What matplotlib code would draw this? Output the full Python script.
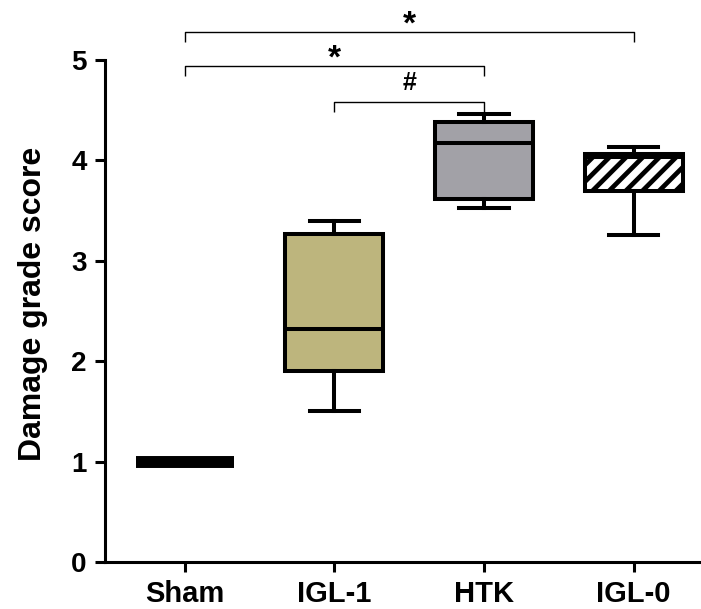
"""
plot.py
Damage grade score box plot (Sham / IGL-1 / HTK / IGL-0)
"""
import matplotlib
matplotlib.use("Agg")
import matplotlib.pyplot as plt

groups = ['Sham', 'IGL-1', 'HTK', 'IGL-0']
whisk_lo = [1.0, 1.50, 3.53, 3.26]
q1 = [1.0, 1.90, 3.62, 3.70]
median = [1.0, 2.32, 4.17, 4.03]
q3 = [1.0, 3.27, 4.38, 4.06]
whisk_hi = [1.0, 3.40, 4.46, 4.13]
fills = ['black', '#bdb57d', '#a2a1a7', 'white']

# significance brackets: (left group, right group, bar y, symbol)
brackets = [(0, 3, 5.28, '*'), (0, 2, 4.94, '*'), (1, 2, 4.58, '#')]

plt.rcParams['font.family'] = ['Liberation Sans', 'DejaVu Sans']
plt.rcParams['font.weight'] = 'bold'
plt.rcParams['hatch.linewidth'] = 3.4

fig = plt.figure(figsize=(7.01, 6.09), dpi=100)
ax = fig.add_axes([0.1492, 0.0772, 0.8508, 0.8243])

lw = 2.9
stats = []
for i in range(len(groups)):
    stats.append({'label': groups[i], 'whislo': whisk_lo[i], 'q1': q1[i],
                  'med': median[i], 'q3': q3[i], 'whishi': whisk_hi[i]})

# sham has no spread: drawn as a thick bar
ax.bxp(stats[:1], positions=[0], widths=0.655, showfliers=False, patch_artist=True,
       boxprops=dict(linewidth=lw, edgecolor='black', facecolor='black'),
       medianprops=dict(color='black', linewidth=8.6, solid_capstyle='butt'),
       whiskerprops=dict(linewidth=0), capprops=dict(linewidth=0))

bp = ax.bxp(stats[1:], positions=[1, 2, 3], widths=0.655, capwidths=0.33,
            showfliers=False, patch_artist=True,
            boxprops=dict(linewidth=lw, edgecolor='black'),
            medianprops=dict(color='black', linewidth=lw),
            whiskerprops=dict(color='black', linewidth=lw),
            capprops=dict(color='black', linewidth=lw))
for patch, col in zip(bp['boxes'], fills[1:]):
    patch.set_facecolor(col)
bp['boxes'][2].set_hatch('//')

for a, b, y, sym in brackets:
    ax.plot([a, a, b, b], [y - 0.1, y, y, y - 0.1], color='black', lw=1.0,
            clip_on=False, solid_capstyle='butt')
    if sym == '*':
        ax.text((a + b) / 2, y - 0.09, sym, ha='center', va='bottom', fontsize=24,
                fontweight='bold')
    else:
        ax.text((a + b) / 2, y + 0.07, sym, ha='center', va='bottom', fontsize=18,
                fontweight='bold')

ax.set_xlim(-0.535, 3.45)
ax.set_ylim(0, 5)
ax.set_xticks(range(len(groups)))
ax.set_xticklabels(groups, fontsize=21)
ax.set_yticks([0, 1, 2, 3, 4, 5])
ax.tick_params(axis='y', labelsize=20, width=2.2, length=7, pad=6)
ax.tick_params(axis='x', width=2.2, length=7, pad=6)
ax.set_ylabel('Damage grade score', fontsize=23, fontweight='bold')
ax.yaxis.set_label_coords(-0.095, 0.515)
for s in ['top', 'right']:
    ax.spines[s].set_visible(False)
for s in ['left', 'bottom']:
    ax.spines[s].set_linewidth(2.2)

fig.savefig('out.png', dpi=100)
